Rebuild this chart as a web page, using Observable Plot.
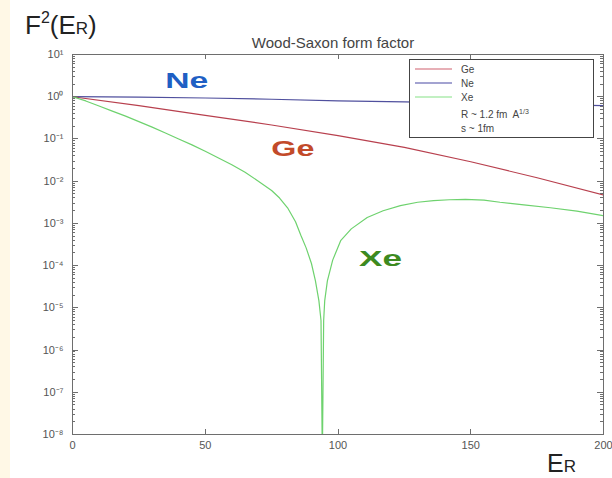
<!DOCTYPE html>
<html>
<head>
<meta charset="utf-8">
<script src="https://cdn.jsdelivr.net/npm/d3@7"></script>
<script src="https://cdn.jsdelivr.net/npm/@observablehq/plot@0.6"></script>
<style>
  html, body { margin: 0; padding: 0; background: #fff; }
  #chart { position: relative; width: 612px; height: 478px; overflow: hidden; background: #fff; }
  #strip { position: absolute; left: 0; top: 0; width: 10px; height: 478px; background: #fff8e6; }
  #chart svg { position: absolute; left: 0; top: 0; }
</style>
</head>
<body>
<div id="chart"><div id="strip"></div></div>
<script>
// Nuclei, in legend order
const nuclei = ["Ge", "Ne", "Xe"];

// Recoil energy E_R and log10 of F²(E_R) for each nucleus
const neE   = [0, 25, 50, 75, 100, 125, 150, 175, 200];
const neLog = [0, -0.01, -0.03, -0.06, -0.1, -0.12, -0.15, -0.18, -0.21];

const geE   = [0, 25, 50, 75, 100, 125, 150, 175, 200];
const geLog = [0, -0.21, -0.44, -0.67, -0.92, -1.2, -1.54, -1.92, -2.33];

const xeE   = [0, 5, 10, 15, 20, 25, 30, 35, 40, 45, 50, 55, 60, 65, 70, 75, 78, 81, 84, 86, 88, 90,
               91.5, 92.8, 93.6, 94.1, 94.6, 95, 96, 98, 101, 105, 111, 117, 123.5, 130, 136,
               142, 148, 155, 161, 170, 180, 190, 200];
const xeLog = [0, -0.1, -0.22, -0.34, -0.46, -0.59, -0.72, -0.86, -1.0, -1.14, -1.29, -1.45,
               -1.61, -1.79, -2.0, -2.22, -2.4, -2.63, -2.96, -3.28, -3.58, -3.95,
               -4.36, -4.83, -5.3, -8.6, -5.3, -4.83, -4.36, -3.87, -3.41, -3.13, -2.86, -2.7,
               -2.58, -2.5, -2.46, -2.44, -2.43, -2.45, -2.5, -2.56, -2.63, -2.71, -2.82];

// Axis ticks
const xTicks = [0, 50, 100, 150, 200];
const yExponents = [1, 0, -1, -2, -3, -4, -5, -6, -7, -8];

// In-plot labels next to each curve: nucleus, E_R, log10 F²
const curveLabels = [
  {name: "Ne", E: 43, L: 0.38},
  {name: "Ge", E: 83, L: -1.24},
  {name: "Xe", E: 116, L: -3.84}
];

const series = [
  {name: "Ge", E: geE, L: geLog},
  {name: "Ne", E: neE, L: neLog},
  {name: "Xe", E: xeE, L: xeLog}
];
const rows = series.flatMap(s => s.E.map((e, i) => ({nucleus: s.name, E: e, F: 10 ** s.L[i]})));

const lineColors = ["#b8404e", "#50509e", "#6ed26e"];
const labelColors = {Ne: "#1f5fc4", Ge: "#c24a2a", Xe: "#3d8a1f"};

const majorY = yExponents.map(k => 10 ** k);
const minorY = [];
for (let k = -8; k < 1; k++) for (let m = 2; m <= 9; m++) minorY.push(m * 10 ** k);

const supMap = {"-": "\u207B", "0": "\u2070", "1": "\u00B9", "2": "\u00B2", "3": "\u00B3",
  "4": "\u2074", "5": "\u2075", "6": "\u2076", "7": "\u2077", "8": "\u2078", "9": "\u2079"};
const powerLabel = d => "10" + String(Math.round(Math.log10(d))).split("").map(c => supMap[c]).join("");

const font = "Liberation Sans, Arial, Helvetica, sans-serif";
const axisGray = "#6e6e6e";

const chart = Plot.plot({
  width: 612,
  height: 478,
  marginLeft: 72,
  marginRight: 9,
  marginTop: 54,
  marginBottom: 44,
  style: {fontFamily: font, background: "transparent", color: "#555"},
  x: {domain: [0, 200]},
  y: {type: "log", domain: [1e-8, 10]},
  color: {domain: nuclei, range: lineColors},
  marks: [
    Plot.line(rows, {x: "E", y: "F", z: "nucleus", stroke: "nucleus", strokeWidth: 1.2, clip: true}),
    Plot.text(curveLabels, {
      x: "E", y: d => 10 ** d.L, text: "name",
      fill: d => labelColors[d.name], fontSize: 22, fontWeight: "bold"
    }),
    Plot.frame({stroke: axisGray}),
    // tick labels
    Plot.axisX(xTicks, {anchor: "bottom", tickSize: 0, tickPadding: 7, fontSize: 11, fill: "#555", label: null}),
    Plot.axisY(majorY, {anchor: "left", tickSize: 0, tickPadding: 9, fontSize: 11, fill: "#555",
      tickFormat: powerLabel, label: null}),
    // title
    Plot.text(["Wood-Saxon form factor"], {
      text: d => d, frameAnchor: "top", dy: -17, dx: -5, fontSize: 15, fill: "#444"
    })
  ]
});

document.getElementById("chart").appendChild(chart);

const svg = d3.select(chart);
const sx = chart.scale("x");
const sy = chart.scale("y");
const [frameLeft, frameRight] = sx.range;
const [frameBottom, frameTop] = sy.range;

// wide, heavy curve labels
svg.selectAll("text")
  .filter(function() { return this.textContent in labelColors; })
  .attr("textLength", 43)
  .attr("lengthAdjust", "spacingAndGlyphs");

// inward ticks on all four sides
const tickGroup = svg.append("g").attr("stroke", axisGray).attr("stroke-width", 1);
xTicks.forEach(v => {
  const x = Math.round(sx.apply(v)) + 0.5;
  tickGroup.append("line").attr("x1", x).attr("x2", x).attr("y1", frameBottom).attr("y2", frameBottom - 5);
  tickGroup.append("line").attr("x1", x).attr("x2", x).attr("y1", frameTop).attr("y2", frameTop + 5);
});
[[majorY, 6], [minorY, 3]].forEach(([vals, len]) => {
  vals.forEach(v => {
    const y = Math.round(sy.apply(v)) + 0.5;
    tickGroup.append("line").attr("x1", frameLeft).attr("x2", frameLeft + len).attr("y1", y).attr("y2", y);
    tickGroup.append("line").attr("x1", frameRight).attr("x2", frameRight - len).attr("y1", y).attr("y2", y);
  });
});

// axis titles
const yTitle = svg.append("text")
  .attr("x", 25).attr("y", 34).attr("text-anchor", "start")
  .attr("font-family", font).attr("font-size", 26).attr("fill", "#222");
yTitle.append("tspan").text("F");
yTitle.append("tspan").attr("font-size", 16).attr("dy", -11).text("2");
yTitle.append("tspan").attr("dy", 11).text("(E");
yTitle.append("tspan").attr("font-size", 17).text("R");
yTitle.append("tspan").text(")");

const xTitle = svg.append("text")
  .attr("x", 547).attr("y", 472).attr("text-anchor", "start")
  .attr("font-family", font).attr("font-size", 25).attr("fill", "#222");
xTitle.append("tspan").text("E");
xTitle.append("tspan").attr("font-size", 17).text("R");

// legend box
const legend = svg.append("g").attr("font-family", font).attr("font-size", 10)
  .attr("fill", "#444").attr("text-anchor", "start");
legend.append("rect")
  .attr("x", 409.5).attr("y", 59.5).attr("width", 184).attr("height", 78)
  .attr("fill", "#fff").attr("stroke", "#444").attr("stroke-width", 1);
const legendRows = [69, 83, 97];
const legendSwatch = ["#d0606e", "#4848a4", "#86e286"];
nuclei.forEach((n, i) => {
  legend.append("line")
    .attr("x1", 415).attr("x2", 452)
    .attr("y1", legendRows[i]).attr("y2", legendRows[i])
    .attr("stroke", legendSwatch[i]).attr("stroke-width", 1.2);
  legend.append("text").attr("x", 461).attr("y", legendRows[i]).attr("dy", "0.35em").text(n);
});
const rText = legend.append("text").attr("x", 461).attr("y", 114).attr("dy", "0.35em");
rText.append("tspan").text("R ~ 1.2 fm  A");
rText.append("tspan").attr("font-size", 7).attr("dy", -4).text("1/3");
legend.append("text").attr("x", 461).attr("y", 128).attr("dy", "0.35em").text("s ~ 1fm");
</script>
</body>
</html>
